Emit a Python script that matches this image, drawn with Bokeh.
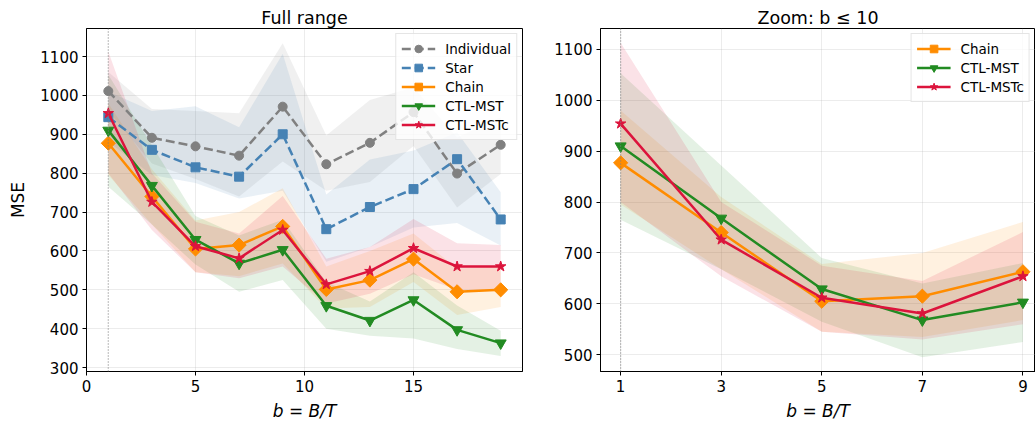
import numpy as np
from bokeh.plotting import figure
from bokeh.models import Span, FixedTicker, Range1d
from bokeh.layouts import row
from bokeh.embed import file_html
from bokeh.resources import INLINE

# ---------------- data ----------------
b = [1, 3, 5, 7, 9, 11, 13, 15, 17, 19]

ind_mean = [1011, 891, 869, 845, 971, 823, 878, 957, 799, 873]
ind_lo   = [960, 825, 785, 740, 830, 755, 777, 870, 712, 798]
ind_hi   = [1060, 965, 960, 954, 1134, 897, 988, 1021, 892, 944]

star_mean = [944, 860, 815, 791, 900, 656, 713, 759, 836, 681]
star_lo   = [880, 795, 775, 735, 755, 572, 610, 660, 672, 614]
star_hi   = [1010, 960, 972, 918, 1107, 745, 835, 858, 905, 751]

chain_mean = [877, 740, 605, 615, 663, 501, 525, 579, 495, 500]
chain_lo   = [795, 668, 545, 535, 568, 452, 456, 520, 435, 456]
chain_hi   = [980, 810, 678, 700, 761, 560, 600, 645, 555, 560]

mst_mean = [910, 768, 629, 568, 603, 459, 421, 474, 397, 363]
mst_lo   = [765, 668, 565, 495, 525, 400, 382, 375, 348, 330]
mst_hi   = [1053, 872, 690, 640, 680, 520, 470, 545, 460, 395]

mstc_mean = [954, 726, 612, 581, 654, 514, 548, 607, 560, 560]
mstc_lo   = [800, 654, 545, 530, 560, 465, 490, 540, 500, 500]
mstc_hi   = [1113, 800, 675, 645, 741, 580, 610, 682, 620, 615]

left_xticks = [0, 5, 10, 15]
left_yticks = [300, 400, 500, 600, 700, 800, 900, 1000, 1100]
right_xticks = [1, 3, 5, 7, 9]
right_yticks = [500, 600, 700, 800, 900, 1000, 1100]

series = [
    ("Individual", ind_mean, ind_lo, ind_hi, "#808080", "circle", 9, 0, "dashed"),
    ("Star", star_mean, star_lo, star_hi, "#4682B4", "square", 9, 0, "dashed"),
    ("Chain", chain_mean, chain_lo, chain_hi, "#FF8C00", "square", 10, np.pi / 4, "solid"),
    ("CTL-MST", mst_mean, mst_lo, mst_hi, "#228B22", "inverted_triangle", 11, 0, "solid"),
    ("CTL-MSTc", mstc_mean, mstc_lo, mstc_hi, "#DC143C", "star", 11, 0, "solid"),
]

FONT = "DejaVu Sans"


def style(p, xticks, yticks):
    p.outline_line_color = "black"
    p.outline_line_width = 1
    for ax in (p.xaxis[0], p.yaxis[0]):
        ax.ticker = FixedTicker(ticks=xticks if ax is p.xaxis[0] else yticks)
        ax.major_label_text_font = FONT
        ax.major_label_text_font_size = "15px"
        ax.major_label_text_color = "black"
        ax.axis_label_text_font = FONT
        ax.axis_label_text_font_size = "17px"
        ax.axis_label_text_font_style = "normal"
        ax.axis_label_text_color = "black"
        ax.major_tick_in = 0
        ax.major_tick_out = 4
        ax.minor_tick_line_color = None
        ax.axis_line_color = "black"
        ax.major_tick_line_color = "black"
    p.xaxis.major_label_standoff = 4
    p.yaxis.major_label_standoff = 4
    p.xaxis.axis_label_standoff = 6
    p.yaxis.axis_label_standoff = 9
    p.xaxis.axis_label_text_font_style = "italic"
    p.grid.grid_line_color = "#b0b0b0"
    p.grid.grid_line_alpha = 0.3
    p.grid.grid_line_width = 0.8
    p.title.text_font = FONT
    p.title.text_font_size = "17.5px"
    p.title.text_font_style = "normal"
    p.title.text_color = "black"
    p.title.align = "center"
    p.title.standoff = 2


def draw(p, items, npts):
    for name, m, lo, hi, col, mk, sz, ang, dash in items:
        x = b[:npts]
        p.varea(x=x, y1=lo[:npts], y2=hi[:npts], fill_color=col, fill_alpha=0.12)
    p.add_layout(Span(location=1, dimension="height", line_color="gray",
                      line_dash="1 2", line_width=1.2, line_alpha=0.9))
    for name, m, lo, hi, col, mk, sz, ang, dash in items:
        x = b[:npts]
        ld = "9 4" if dash == "dashed" else "solid"
        p.line(x, m[:npts], line_color=col, line_width=2.5, line_dash=ld, legend_label=name)
        p.scatter(x, m[:npts], marker=mk, size=sz, angle=ang, fill_color=col,
                  line_color=col, legend_label=name)
    lg = p.legend[0]
    lg.location = "top_right"
    lg.margin = 5
    lg.padding = 5
    lg.spacing = 0
    lg.label_text_font = FONT
    lg.label_text_font_size = "13.5px"
    lg.label_text_color = "black"
    lg.label_height = 19
    lg.glyph_height = 19
    lg.glyph_width = 34
    lg.label_standoff = 10
    lg.border_line_color = "#cccccc"
    lg.border_line_width = 1
    lg.background_fill_alpha = 0.8


p1 = figure(width=542, height=427, output_backend="svg", toolbar_location=None,
            x_range=Range1d(0, 20), y_range=Range1d(290, 1172),
            title="Full range", min_border_left=86, min_border_right=20,
            min_border_top=28, min_border_bottom=56)
p1.xaxis.axis_label = "b = B/T"
p1.yaxis.axis_label = "MSE"
style(p1, left_xticks, left_yticks)
draw(p1, series, len(b))

p2 = figure(width=493, height=427, output_backend="svg", toolbar_location=None,
            x_range=Range1d(0.6, 9.25), y_range=Range1d(467, 1141),
            title="Zoom: b \u2264 10", min_border_left=58, min_border_right=0,
            min_border_top=28, min_border_bottom=56)
p2.xaxis.axis_label = "b = B/T"
style(p2, right_xticks, right_yticks)
draw(p2, series[2:], 5)

layout = row(p1, p2)
open("out.html", "w").write(file_html(layout, INLINE))
